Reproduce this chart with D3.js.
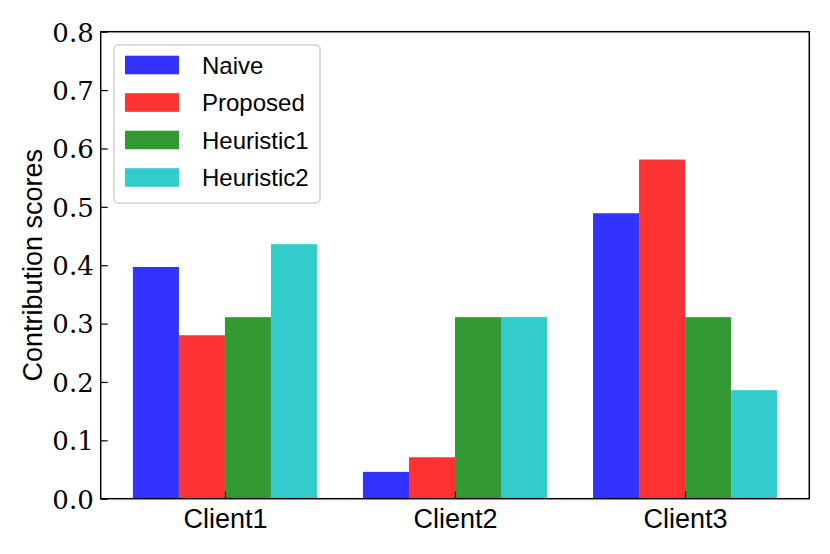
<!DOCTYPE html>
<html>
<head>
<meta charset="utf-8">
<script src="https://cdn.jsdelivr.net/npm/d3@7.9.0/dist/d3.min.js"></script>
<style>
  body { margin: 0; background: #fff; }
  svg { display: block; }
</style>
</head>
<body>
<svg id="chart" width="830" height="554"></svg>
<script>
// data
const clients = ['Client1', 'Client2', 'Client3'];
const methods = ['Naive', 'Proposed', 'Heuristic1', 'Heuristic2'];
const naive = [0.397, 0.046, 0.489];
const proposed = [0.280, 0.071, 0.581];
const heuristic1 = [0.311, 0.311, 0.311];
const heuristic2 = [0.436, 0.311, 0.186];
const yTicks = [0.0, 0.1, 0.2, 0.3, 0.4, 0.5, 0.6, 0.7, 0.8];

const series = [naive, proposed, heuristic1, heuristic2];
const colors = ['#3333ff', '#ff3333', '#339933', '#33cccc'];
const serif = "'DejaVu Serif', serif";
const sans = "'Liberation Sans', 'Noto Sans', sans-serif";

const margin = { left: 100.7, right: 830 - 809.3, top: 31.7, bottom: 554 - 498.7 };
const width = 830 - margin.left - margin.right;
const height = 554 - margin.top - margin.bottom;

const svg = d3.select('#chart');
const g = svg.append('g').attr('transform', `translate(${margin.left},${margin.top})`);

// matplotlib-like numeric x: bars at i + (k-1.5)*0.2, width 0.2
const barW = 0.2;
const x = d3.scaleLinear().domain([-0.54, 2.54]).range([0, width]);
const y = d3.scaleLinear().domain([0, 0.8]).range([height, 0]);

// bars
series.forEach((vals, k) => {
  g.selectAll(null)
    .data(vals)
    .enter()
    .append('rect')
    .attr('x', (d, i) => x(i + (k - 2) * barW))
    .attr('width', x(barW) - x(0))
    .attr('y', d => y(d))
    .attr('height', d => y(0) - y(d))
    .attr('fill', colors[k]);
});

// y axis, ticks inward
const yAxis = d3.axisLeft(y).tickValues(yTicks).tickSizeInner(-7).tickSizeOuter(0)
  .tickPadding(8).tickFormat(d3.format('.1f'));
const ya = g.append('g').call(yAxis);
ya.select('.domain').remove();
ya.selectAll('line').attr('stroke', '#000').attr('stroke-width', 1.2);
ya.selectAll('text')
  .style('font-family', serif)
  .style('font-size', '26px')
  .attr('fill', '#000')
  .attr('x', -7).attr('dy', '0.36em');

// x axis
const xAxis = d3.axisBottom(x).tickValues([0, 1, 2]).tickSizeInner(-7).tickSizeOuter(0)
  .tickPadding(8).tickFormat((d) => clients[d]);
const xa = g.append('g').attr('transform', `translate(0,${height})`).call(xAxis);
xa.select('.domain').remove();
xa.selectAll('line').attr('stroke', '#000').attr('stroke-width', 1.2);
xa.selectAll('text')
  .style('font-family', sans)
  .style('font-size', '27px')
  .attr('fill', '#000')
  .attr('y', 9).attr('dy', '0.75em');

// frame
g.append('rect')
  .attr('width', width).attr('height', height)
  .attr('fill', 'none').attr('stroke', '#000').attr('stroke-width', 1.5);

// y label
svg.append('text')
  .style('font-family', sans)
  .style('font-size', '27px')
  .attr('transform', `translate(42,${margin.top + height / 2}) rotate(-90)`)
  .attr('text-anchor', 'middle')
  .text('Contribution scores');

// legend
const legend = svg.append('g').attr('transform', 'translate(114,45)');
legend.append('rect')
  .attr('width', 206).attr('height', 158).attr('rx', 4)
  .attr('fill', '#fff').attr('fill-opacity', 0.8)
  .attr('stroke', '#d0d0d0').attr('stroke-width', 1.5);
methods.forEach((m, k) => {
  const row = legend.append('g').attr('transform', `translate(0,${20 + k * 37.5})`);
  row.append('rect').attr('x', 11).attr('y', -9.3).attr('width', 54).attr('height', 18.6)
    .attr('fill', colors[k]);
  row.append('text')
    .style('font-family', sans)
    .style('font-size', '24px')
    .attr('x', 88).attr('dy', '0.36em')
    .text(m);
});
</script>
</body>
</html>
